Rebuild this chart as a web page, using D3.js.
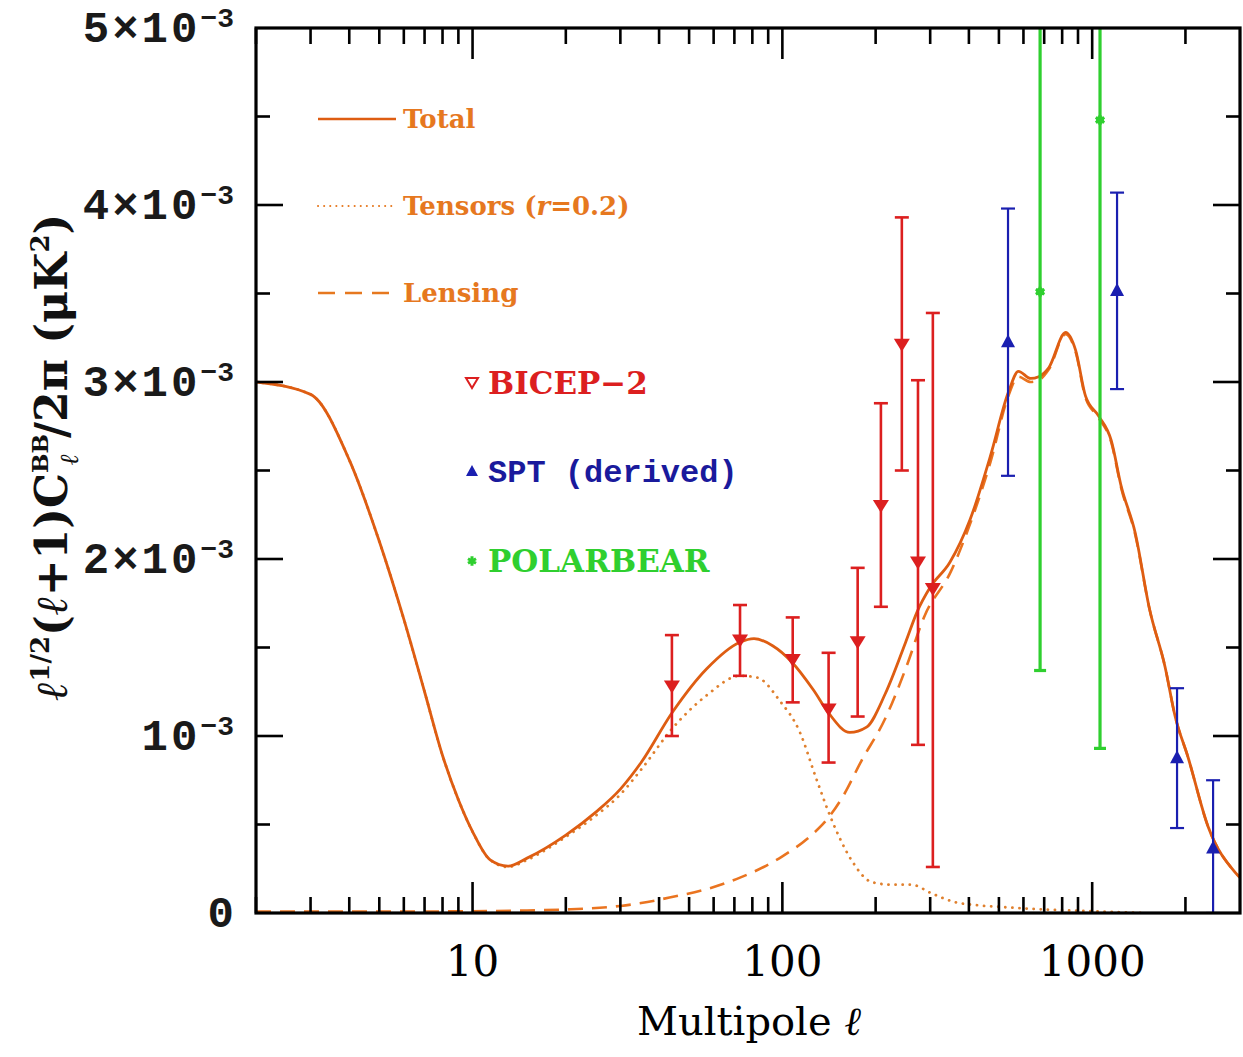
<!DOCTYPE html>
<html>
<head>
<meta charset="utf-8">
<script src="https://cdn.jsdelivr.net/npm/d3@7"></script>
<style>
  body { margin: 0; background: #fff; }
  svg { display: block; }
</style>
</head>
<body>
<script>
var W = 1243, H = 1057,
    L = 256, R = 1240, T = 28, B = 913;

// curves (values in units of 1e-3 uK^2)
var totalEll = [2,3,4,5,6,7,8,9,10,11.4,13,15,20,25,30,35,44,57,73,81,93,107,126,141,165,187,215,250,272,300,347,403,469,536,578,633,672,724,821,884,952,1047,1152,1241,1376,1530,1719,1853,2039,2364,2893,3000];
var total = [3.00,2.93,2.56,2.10,1.66,1.25,0.89,0.64,0.46,0.30,0.265,0.31,0.44,0.57,0.70,0.85,1.13,1.38,1.53,1.55,1.51,1.42,1.26,1.13,1.02,1.05,1.24,1.53,1.70,1.84,1.98,2.22,2.58,2.94,3.06,3.02,3.03,3.08,3.28,3.18,2.92,2.81,2.67,2.41,2.15,1.72,1.39,1.11,0.88,0.49,0.23,0.20];

var tensorEll = [2,3,4,5,6,7,8,9,10,11.4,13,15,20,25,30,35,44,57,73,83,98,114,128,144,167,194,225,261,304,363,420,500,700,1000,1500];
var tensor = [3.00,2.93,2.56,2.10,1.66,1.25,0.89,0.64,0.46,0.30,0.26,0.30,0.43,0.55,0.67,0.81,1.04,1.23,1.34,1.33,1.20,1.02,0.77,0.53,0.30,0.175,0.16,0.16,0.11,0.06,0.045,0.035,0.02,0.01,0.0];

var lensEll = [2,5,10,15,20,30,35,44,57,73,87,100,126,141,157,180,215,250,288,350,400,470,536,578,633,672,724,821,884,952,1047,1152,1241,1376,1530,1719,1853,2039,2364,2893,3000];
var lens = [0.008,0.008,0.01,0.014,0.02,0.04,0.056,0.09,0.135,0.2,0.26,0.32,0.45,0.54,0.66,0.86,1.10,1.38,1.68,1.93,2.18,2.55,2.92,3.03,3.00,3.01,3.07,3.27,3.17,2.91,2.80,2.66,2.40,2.14,1.72,1.39,1.11,0.88,0.49,0.23,0.20];

// band powers
var bicepEll = [44,73,108,141,175,208,243,274,306];
var bicepVal = [1.28,1.54,1.43,1.15,1.53,2.30,3.21,1.98,1.83];
var bicepHi  = [1.57,1.74,1.67,1.47,1.95,2.88,3.93,3.01,3.39];
var bicepLo  = [1.00,1.34,1.19,0.85,1.11,1.73,2.50,0.95,0.26];

var sptEll = [535,1203,1879,2456];
var sptVal = [3.23,3.52,0.88,0.37];
var sptHi  = [3.98,4.07,1.27,0.75];
var sptLo  = [2.47,2.96,0.48,0.0];

var pbEll = [679,1060];
var pbVal = [3.51,4.48];
var pbHi  = [7.0,9.0];
var pbLo  = [1.37,0.93];

var yTicks = [0,1,2,3,4,5];
var yTickLabels = ["0","10","2×10","3×10","4×10","5×10"];
var xTicks = [10,100,1000];

var ORANGE = "#de5d12", ORANGE_T = "#e6781f", RED = "#dc1f1f", BLUE = "#1a1fb0", GREEN = "#2fcf2f";

var x = d3.scaleLog().domain([2, 3000]).range([L, R]);
var y = d3.scaleLinear().domain([0, 5]).range([B, T]);

var svg = d3.select("body").append("svg").attr("width", W).attr("height", H);

svg.append("defs").append("clipPath").attr("id", "plot")
    .append("rect").attr("x", L).attr("y", T).attr("width", R - L).attr("height", B - T);

var plot = svg.append("g").attr("clip-path", "url(#plot)");

function zip(a, b) { return a.map(function (d, i) { return [d, b[i]] }) }
var line = d3.line().x(function (d) { return x(d[0]) }).y(function (d) { return y(d[1]) }).curve(d3.curveMonotoneX);

plot.append("path").attr("d", line(zip(lensEll, lens)))
    .attr("fill", "none").attr("stroke", "#ea7420").attr("stroke-width", 2.6).attr("stroke-dasharray", "15,9");
plot.append("path").attr("d", line(zip(tensorEll, tensor)))
    .attr("fill", "none").attr("stroke", "#e0802e").attr("stroke-width", 2.8)
    .attr("stroke-dasharray", "0.1,7").attr("stroke-linecap", "round");
plot.append("path").attr("d", line(zip(totalEll, total)))
    .attr("fill", "none").attr("stroke", ORANGE).attr("stroke-width", 2.8);

// error bars + markers
function points(ells, vals, his, los, color, sw, cap, marker) {
    var g = plot.append("g");
    ells.forEach(function (l, i) {
        var cx = x(l);
        g.append("line").attr("x1", cx).attr("x2", cx).attr("y1", y(his[i])).attr("y2", y(los[i]))
            .attr("stroke", color).attr("stroke-width", sw);
        [his[i], los[i]].forEach(function (v) {
            g.append("line").attr("x1", cx - cap).attr("x2", cx + cap).attr("y1", y(v)).attr("y2", y(v))
                .attr("stroke", color).attr("stroke-width", sw);
        });
        marker(g, cx, y(vals[i]));
    });
}
function triDown(g, cx, cy) {
    g.append("path").attr("d", "M" + (cx - 8) + "," + (cy - 6) + "L" + (cx + 8) + "," + (cy - 6) + "L" + cx + "," + (cy + 7) + "Z")
        .attr("fill", RED);
}
function triUp(g, cx, cy) {
    g.append("path").attr("d", "M" + (cx - 7) + "," + (cy + 6) + "L" + (cx + 7) + "," + (cy + 6) + "L" + cx + "," + (cy - 7) + "Z")
        .attr("fill", BLUE);
}
function star(g, cx, cy) {
    g.append("path").attr("d", d3.symbol().type(d3.symbolAsterisk).size(70)())
        .attr("transform", "translate(" + cx + "," + cy + ")").attr("stroke", GREEN).attr("stroke-width", 3);
    g.append("circle").attr("cx", cx).attr("cy", cy).attr("r", 4).attr("fill", GREEN);
}
points(bicepEll, bicepVal, bicepHi, bicepLo, RED, 2.6, 7, triDown);
points(sptEll, sptVal, sptHi, sptLo, BLUE, 2.2, 7, triUp);
points(pbEll, pbVal, pbHi, pbLo, GREEN, 3.2, 6, star);

// ticks (inward, all four sides)
var axes = svg.append("g").attr("stroke", "#000");
var minor = [];
[1, 10, 100, 1000].forEach(function (p) {
    for (var k = 2; k <= 9; k++) { var v = k * p; if (v >= 2 && v < 3000 && xTicks.indexOf(v) < 0) minor.push(v) }
});
minor.forEach(function (v) {
    axes.append("line").attr("x1", x(v)).attr("x2", x(v)).attr("y1", B).attr("y2", B - 16).attr("stroke-width", 2.6);
    axes.append("line").attr("x1", x(v)).attr("x2", x(v)).attr("y1", T).attr("y2", T + 16).attr("stroke-width", 2.6);
});
xTicks.forEach(function (v) {
    axes.append("line").attr("x1", x(v)).attr("x2", x(v)).attr("y1", B).attr("y2", B - 31).attr("stroke-width", 2.6);
    axes.append("line").attr("x1", x(v)).attr("x2", x(v)).attr("y1", T).attr("y2", T + 31).attr("stroke-width", 2.6);
});
d3.range(0.5, 5, 0.5).forEach(function (v) {
    var len = (v % 1 === 0) ? 27 : 14;
    axes.append("line").attr("x1", L).attr("x2", L + len).attr("y1", y(v)).attr("y2", y(v)).attr("stroke-width", 2.6);
    axes.append("line").attr("x1", R).attr("x2", R - len).attr("y1", y(v)).attr("y2", y(v)).attr("stroke-width", 2.6);
});
svg.append("rect").attr("x", L).attr("y", T).attr("width", R - L).attr("height", B - T)
    .attr("fill", "none").attr("stroke", "#000").attr("stroke-width", 3.2);

// tick labels
var xl = svg.append("g").attr("font-family", "DejaVu Serif").attr("font-size", 42).attr("text-anchor", "middle");
xTicks.forEach(function (v) {
    xl.append("text").attr("x", x(v)).attr("y", 976).text(d3.format("d")(v));
});
var yl = svg.append("g").attr("font-family", "Liberation Mono").attr("font-weight", "bold")
    .attr("font-size", 44).attr("text-anchor", "end").attr("fill", "#1a1a1a");
yTicks.forEach(function (v, i) {
    var t = yl.append("text").attr("x", 234).attr("y", y(v) + 14);
    if (v === 0) { t.text("0"); return }
    t.append("tspan").attr("letter-spacing", 3).text(yTickLabels[i]);
    t.append("tspan").attr("font-size", 28).attr("dy", -15).text("−3");
});

svg.append("text").attr("x", 749).attr("y", 1035).attr("text-anchor", "middle")
    .attr("font-family", "DejaVu Serif").attr("font-size", 40)
    .text("Multipole ").append("tspan").attr("font-style", "italic").text("ℓ");

var yt = svg.append("text").attr("transform", "translate(67,457) rotate(-90)").attr("text-anchor", "middle")
    .attr("font-family", "DejaVu Serif").attr("font-weight", "bold").attr("font-size", 44).attr("fill", "#111");
yt.append("tspan").attr("font-style", "italic").text("ℓ");
yt.append("tspan").attr("font-size", 26).attr("dy", -18).text("1/2");
yt.append("tspan").attr("dy", 18).text("(");
yt.append("tspan").attr("font-style", "italic").text("ℓ");
yt.append("tspan").text("+1)C");
yt.append("tspan").attr("font-size", 23).attr("dy", -19).text("BB");
yt.append("tspan").attr("font-size", 26).attr("font-style", "italic").attr("dx", -31).attr("dy", 30).text("ℓ");
yt.append("tspan").attr("dx", 16).attr("dy", -11).text("/2π   (μK");
yt.append("tspan").attr("font-size", 26).attr("dy", -18).text("2");
yt.append("tspan").attr("dy", 18).text(")");

// legends
var leg = svg.append("g").attr("font-family", "DejaVu Serif").attr("font-weight", "bold").attr("font-size", 26).attr("fill", ORANGE_T);
var curveNames = ["Total", "Tensors (", "Lensing"];
var curveDash = [null, "0.1,6", "17,10"];
[119, 206, 293].forEach(function (ly, i) {
    var ln = leg.append("line").attr("x1", 318).attr("x2", 396).attr("y1", ly).attr("y2", ly)
        .attr("stroke", i === 0 ? ORANGE : ORANGE_T).attr("stroke-width", i === 1 ? 2 : 2.6);
    if (curveDash[i]) ln.attr("stroke-dasharray", curveDash[i]);
    if (i === 1) ln.attr("stroke-linecap", "round");
    var t = leg.append("text").attr("x", 403).attr("y", ly + 9).text(curveNames[i]);
    if (i === 1) {
        t.append("tspan").attr("font-style", "italic").text("r");
        t.append("tspan").text("=0.2)");
    }
});

var dleg = svg.append("g").attr("font-size", 31).attr("font-weight", "bold");
dleg.append("path").attr("d", "M466,378L478,378L472,388Z").attr("fill", "none").attr("stroke", RED).attr("stroke-width", 2);
dleg.append("text").attr("x", 488).attr("y", 394).attr("fill", RED).attr("font-family", "DejaVu Serif").text("BICEP−2");
dleg.append("path").attr("d", "M466,476L478,476L472,465Z").attr("fill", BLUE);
dleg.append("text").attr("x", 488).attr("y", 482).attr("fill", "#1a1a9c").attr("font-family", "Liberation Mono").attr("font-size", 32).text("SPT (derived)");
dleg.append("path").attr("d", d3.symbol().type(d3.symbolAsterisk).size(60)()).attr("transform", "translate(472,561)")
    .attr("stroke", GREEN).attr("stroke-width", 3);
dleg.append("text").attr("x", 488).attr("y", 572).attr("fill", GREEN).attr("font-family", "DejaVu Serif").text("POLARBEAR");
</script>
</body>
</html>
